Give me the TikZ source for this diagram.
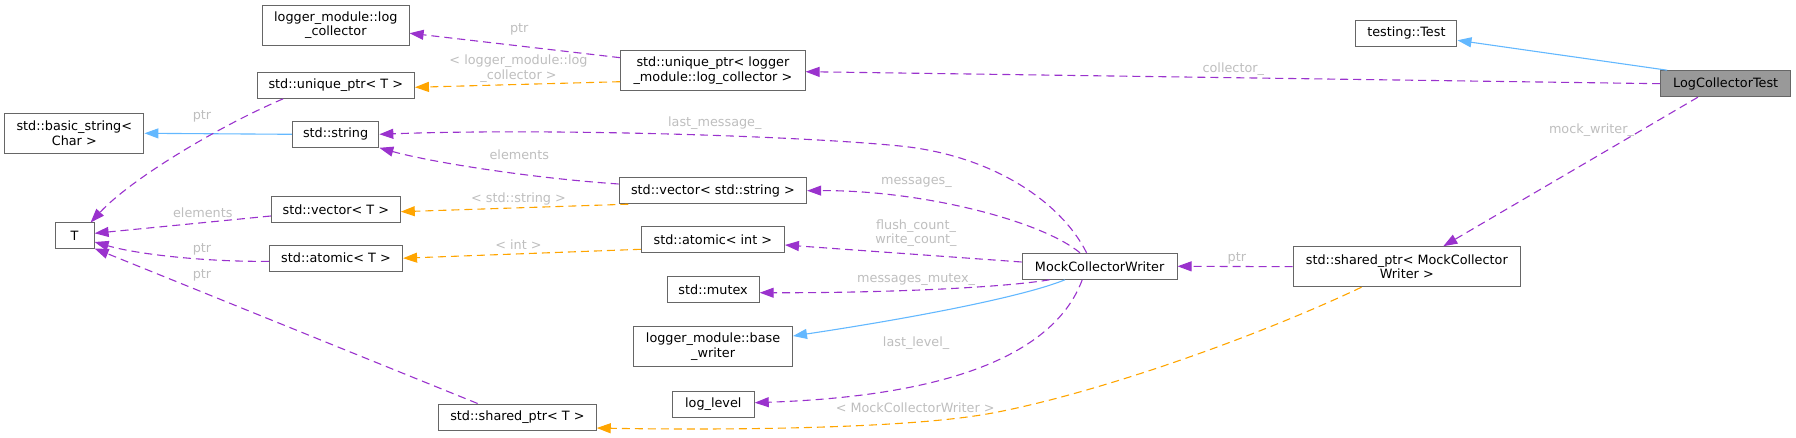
\documentclass[tikz,border=0pt]{standalone}
\usepackage{fontspec}
\setmainfont{DejaVu Sans}
\usetikzlibrary{arrows.meta}
\definecolor{epurple}{HTML}{9A32CD}
\definecolor{eorange}{HTML}{FFA500}
\definecolor{eblue}{HTML}{63B8FF}
\definecolor{eborder}{HTML}{666666}
\definecolor{elabel}{HTML}{BEBEBE}
\definecolor{efill}{HTML}{999999}
\begin{document}
\begin{tikzpicture}[x=1pt,y=-1pt,font=\fontsize{12.8}{14.5}\selectfont,
  cls/.style={draw=eborder,line width=1pt,fill=white,inner sep=0pt,align=center,minimum height=26pt,text=black},
  clstwo/.style={cls,minimum height=40pt},
  lbl/.style={text=elabel,inner sep=0pt,align=center},
  tip/.style={-{Triangle[length=14pt,width=10pt]}},
  dep/.style={draw=epurple,line width=1.1pt,dash pattern=on 8pt off 5pt,tip},
  tmpl/.style={draw=eorange,line width=1.1pt,dash pattern=on 8pt off 5pt,tip},
  inh/.style={draw=eblue,line width=1.1pt,tip}]
\useasboundingbox (0,0) rectangle (1796,438);

% nodes
\node[clstwo,minimum width=146.6pt] (lc) at (335.8,25.2) {logger\_module::log\\\_collector};
\node[cls,minimum width=157.3pt] (upT) at (335.8,85.3) {std::unique\_ptr< T >};
\node[clstwo,minimum width=139.3pt] (bs) at (74.3,133.3) {std::basic\_string<\\Char >};
\node[cls,minimum width=86.5pt] (str) at (335.6,134.3) {std::string};
\node[cls,minimum width=129pt] (vT) at (335.8,209.7) {std::vector< T >};
\node[cls,minimum width=39pt] (T) at (74.6,236) {T};
\node[cls,minimum width=133.2pt] (aT) at (336,258.2) {std::atomic< T >};
\node[cls,minimum width=157.7pt] (spT) at (517.4,417) {std::shared\_ptr< T >};
\node[clstwo,minimum width=184.4pt] (uplc) at (712.9,70.7) {std::unique\_ptr< logger\\\_module::log\_collector >};
\node[cls,minimum width=187.5pt] (vs) at (712.9,190.7) {std::vector< std::string >};
\node[cls,minimum width=101.1pt] (test) at (1406.4,33.3) {testing::Test};
\node[cls,minimum width=130pt,fill=efill] (lct) at (1725.7,83.7) {LogCollectorTest};
\node[cls,minimum width=143.1pt] (ai) at (712.9,239.7) {std::atomic< int >};
\node[cls,minimum width=92.2pt] (mx) at (713.1,289.3) {std::mutex};
\node[clstwo,minimum width=158.8pt] (bw) at (713.1,346.7) {logger\_module::base\\\_writer};
\node[cls,minimum width=81.9pt] (ll) at (713.3,404) {log\_level};
\node[cls,minimum width=154.9pt] (mcw) at (1099.6,266.3) {MockCollectorWriter};
\node[clstwo,minimum width=227.3pt] (spm) at (1406.8,266.7) {std::shared\_ptr< MockCollector\\Writer >};

% edges
\draw[inh] ([xshift=7pt]lct.north west) -- ([yshift=-7pt]test.east);
\draw[dep] (lct.west) -- ([yshift=-1pt]uplc.east);
\draw[dep] ([yshift=13pt]uplc.west) -- ([yshift=-8pt]lc.east);
\draw[tmpl] ([yshift=-11pt]uplc.west) -- ([yshift=-2pt]upT.east);
\draw[inh] (str.west) -- (bs.east);
\draw[dep] ([xshift=-52.6pt]upT.south) .. controls (215,128) and (130,180) .. ([xshift=-4pt]T.north east);
\draw[dep] ([xshift=-13pt]mcw.north) .. controls (1060,200) and (990,155) .. (900,146)
  .. controls (800,136) and (550,128) .. (str.east);
\draw[dep] ([yshift=6.7pt]vs.west) .. controls (530,178) and (430,162) .. (str.south east);
\draw[tmpl] ([xshift=9.6pt]vs.south west) -- ([yshift=-2pt]vT.east);
\draw[dep] ([yshift=-6.3pt]vT.west) -- ([yshift=2.7pt]T.east);
\draw[dep] ([yshift=-3.1pt]aT.west) .. controls (210,262) and (140,255) .. ([yshift=-6pt]T.east);
\draw[dep] ([xshift=-39.8pt]spT.north) -- ([yshift=1pt]T.south east);
\draw[tmpl] ([yshift=-9.6pt]ai.west) -- (aT.east);
\draw[dep] ([xshift=-19.6pt]mcw.north) .. controls (1040,220) and (920,190) .. (vs.east);
\draw[dep] ([yshift=4.3pt]mcw.west) -- ([yshift=-5.3pt]ai.east);
\draw[dep] ([xshift=-50pt]mcw.south) .. controls (1000,288) and (880,293) .. ([yshift=-3.4pt]mx.east);
\draw[inh] ([xshift=-34.6pt]mcw.south) .. controls (1020,298) and (900,320) .. ([yshift=10.7pt]bw.east);
\draw[dep] ([xshift=-17.4pt]mcw.south) .. controls (1060,340) and (980,395) .. ([yshift=1.3pt]ll.east);
\draw[dep] (spm.west) -- (mcw.east);
\draw[dep] ([xshift=-27.8pt]lct.south) -- ([xshift=36.5pt]spm.north);
\draw[tmpl] ([xshift=-45.3pt]spm.south) .. controls (1250,340) and (1090,395) .. (991,413.3)
  .. controls (901,430) and (700,430) .. ([yshift=-11pt]spT.east);

% labels
\node[lbl] (l1) at (1233.3,69) {collector\_};
\node[lbl] (l2) at (519.3,29.3) {ptr};
\node[lbl] (l3) at (518.5,68.5) {< logger\_module::log\\\_collector >};
\node[lbl] (l4) at (202,116.7) {ptr};
\node[lbl] (l5) at (714.8,123.3) {last\_message\_};
\node[lbl] (l6) at (519.3,154.3) {elements};
\node[lbl] (l7) at (518.5,199.3) {< std::string >};
\node[lbl] (l8) at (202.8,212.7) {elements};
\node[lbl] (l9) at (202,249.3) {ptr};
\node[lbl] (l10) at (202,275) {ptr};
\node[lbl] (l11) at (518.5,244.3) {< int >};
\node[lbl] (l12) at (916.4,182.7) {messages\_};
\node[lbl] (l13) at (916,233) {flush\_count\_\\write\_count\_};
\node[lbl] (l14) at (916.1,280) {messages\_mutex\_};
\node[lbl] (l15) at (916.1,343.3) {last\_level\_};
\node[lbl] (l16) at (915.2,407.3) {< MockCollectorWriter >};
\node[lbl] (l17) at (1236.9,258.3) {ptr};
\node[lbl] (l18) at (1591.5,130) {mock\_writer\_};
\end{tikzpicture}
\end{document}
